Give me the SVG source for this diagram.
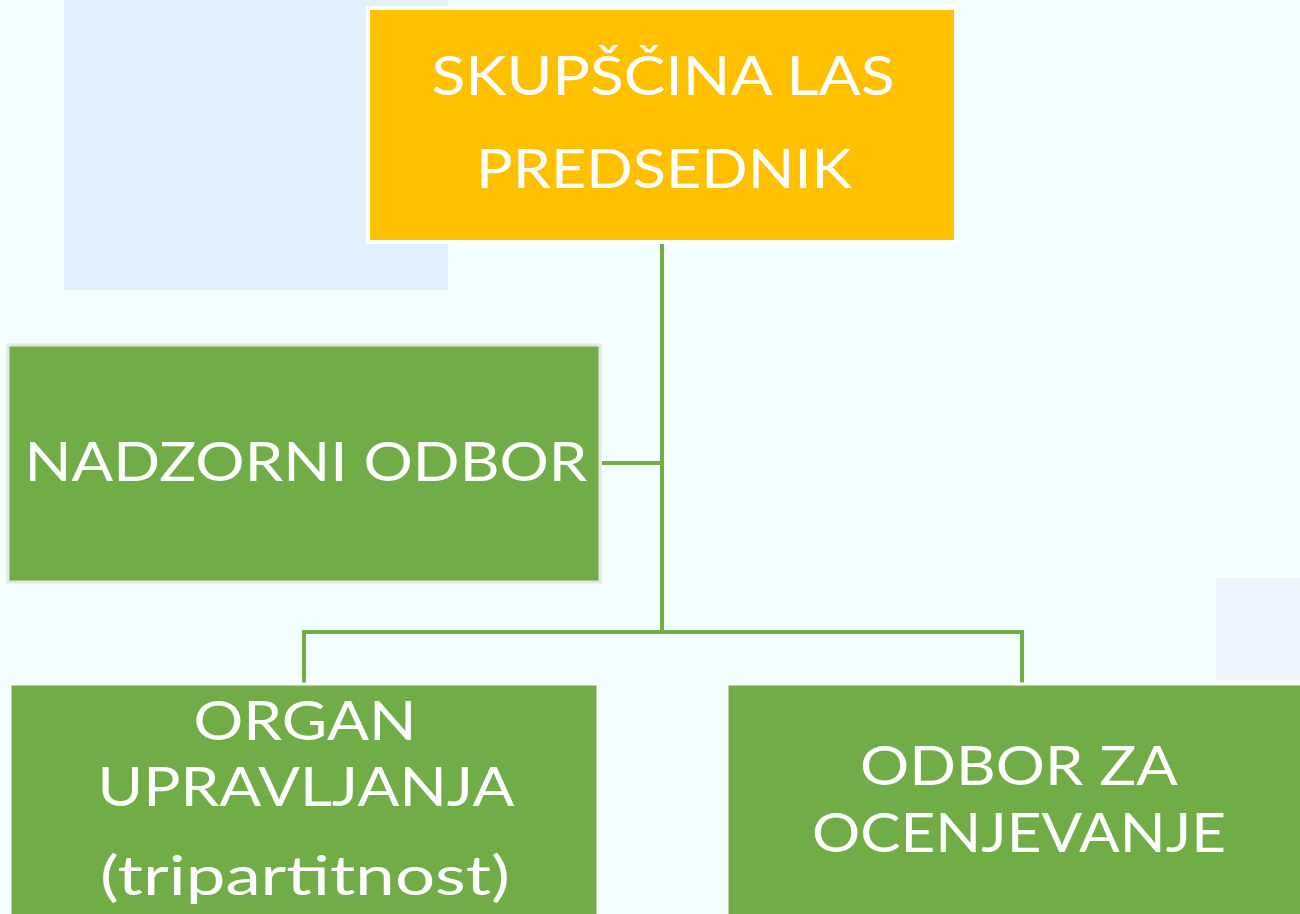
<svg xmlns="http://www.w3.org/2000/svg" width="1300" height="914" viewBox="0 0 1300 914">
<style>
.t{font-family:Lato,"Open Sans","Liberation Sans",sans-serif;fill:#ffffff;font-size:54px;text-anchor:middle}
.g{fill:#70AD47}
.c{stroke:#70AD47;stroke-width:4;fill:none}
</style>
<rect x="0" y="0" width="1300" height="914" fill="#F3FEFF"/>
<rect x="64" y="0" width="384" height="290" fill="#E0F0FD"/>
<rect x="1216" y="578" width="84" height="102" fill="#ECF3FD"/>
<g id="connectors">
<path class="c" d="M662 242 V632"/>
<path class="c" d="M602 463 H662"/>
<path class="c" d="M304 683 V632 H1022 V683"/>
</g>
<g id="skupscina">
<rect x="368" y="8" width="588" height="234" fill="#FFC000" stroke="#ffffff" stroke-width="4"/>
<text class="t" x="663" y="95" textLength="463" lengthAdjust="spacingAndGlyphs">SKUPŠČINA LAS</text>
<text class="t" x="664" y="188" textLength="376" lengthAdjust="spacingAndGlyphs">PREDSEDNIK</text>
</g>
<g id="nadzorni">
<rect class="g" x="8" y="345" width="592" height="237" stroke="#E2E8E0" stroke-width="3"/>
<text class="t" x="306" y="481" textLength="563" lengthAdjust="spacingAndGlyphs">NADZORNI ODBOR</text>
</g>
<g id="organ">
<rect class="g" x="10" y="684" width="588" height="240" stroke="#ffffff" stroke-width="3"/>
<text class="t" x="305" y="740" textLength="223" lengthAdjust="spacingAndGlyphs">ORGAN</text>
<text class="t" x="306" y="806" textLength="417" lengthAdjust="spacingAndGlyphs">UPRAVLJANJA</text>
<text class="t" x="305" y="895" textLength="410" lengthAdjust="spacingAndGlyphs">(tripartitnost)</text>
</g>
<g id="odbor">
<rect class="g" x="727" y="684" width="585" height="240" stroke="#ffffff" stroke-width="3"/>
<text class="t" x="1019" y="785" textLength="318" lengthAdjust="spacingAndGlyphs">ODBOR ZA</text>
<text class="t" x="1019" y="852" textLength="414" lengthAdjust="spacingAndGlyphs">OCENJEVANJE</text>
</g>
</svg>
